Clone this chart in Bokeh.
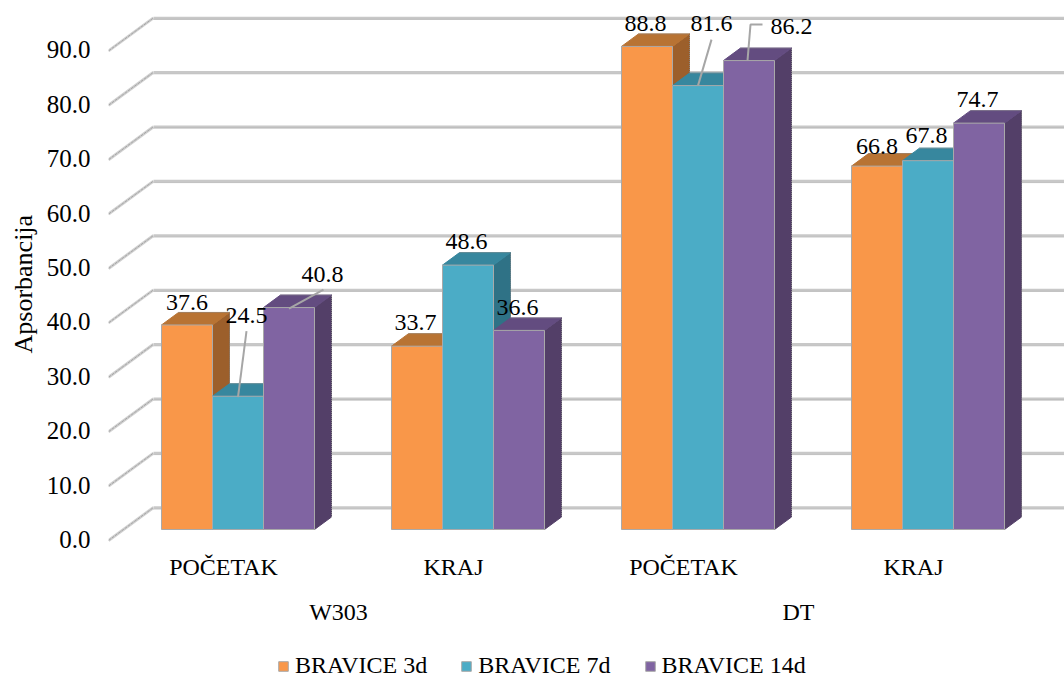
from bokeh.plotting import figure
from bokeh.models import (ColumnDataSource, FixedTicker, Legend, LegendItem, LinearAxis,
                          NumeralTickFormatter, Range1d, Title)
from bokeh.core.properties import value
from bokeh.embed import file_html
from bokeh.resources import INLINE

# ---- data ----
groups = ["W303", "DT"]
phases = ["POČETAK", "KRAJ", "POČETAK", "KRAJ"]
series_names = ["BRAVICE 3d", "BRAVICE 7d", "BRAVICE 14d"]
bravice_3d = [37.6, 33.7, 88.8, 66.8]
bravice_7d = [24.5, 48.6, 81.6, 67.8]
bravice_14d = [40.8, 36.6, 86.2, 74.7]
y_ticks = [0, 10, 20, 30, 40, 50, 60, 70, 80, 90]

# ---- styles ----
FONT = "Liberation Serif"
FRONT = ["#F99749", "#4BACC6", "#8064A2"]
TOP = ["#B87333", "#37879E", "#634C80"]
SIDE = ["#9C5F2B", "#2F7286", "#533F68"]

# ---- projection: one category = 230 px, ten units = 54.4 px ----
PX_X = 1 / 230
PX_Y = 1 / 5.44
BAR_W = 51 * PX_X
FLOOR_X, FLOOR_Y = 14.5 * PX_X, 10 * PX_Y     # bars stand a little into the floor
DEPTH_X, DEPTH_Y = 17 * PX_X, 12.5 * PX_Y     # bar depth
WALL_X, WALL_Y = 45 * PX_X, 32 * PX_Y         # wall depth

x_range = Range1d(-0.5, -0.5 + 956 * PX_X)
y_range = Range1d(-138 * PX_Y, 539 * PX_Y)

p = figure(width=1064, height=677, x_range=x_range, y_range=y_range, toolbar_location=None,
           output_backend="svg", min_border_left=108, min_border_right=0, min_border_top=0,
           min_border_bottom=0, outline_line_color=None, background_fill_color="white",
           x_axis_type=None, y_axis_type=None)
p.grid.visible = False

back_x = [[-0.5 + WALL_X, x_range.end] for _ in y_ticks]
back_y = [[v + WALL_Y, v + WALL_Y] for v in y_ticks]
p.multi_line(back_x, back_y, line_color="#c8c8c8", line_width=2.5)
p.multi_line(back_x, [[a - 1.5 * PX_Y, b - 1.5 * PX_Y] for a, b in back_y], line_color="#8c8c8c",
             line_width=1, line_dash="1 1")
diag_x = [[-0.5, -0.5 + WALL_X] for _ in y_ticks]
diag_y = [[v - PX_Y, v + WALL_Y] for v in y_ticks]
p.multi_line(diag_x, diag_y, line_color="#d0d0d0", line_width=3)
p.multi_line(diag_x, diag_y, line_color="#a4a4a4", line_width=1, line_dash="3 1")

all_series = [bravice_3d, bravice_7d, bravice_14d]
legend_items = []
for s, vals in enumerate(all_series):
    lefts = [i + FLOOR_X + (s - 1.5) * BAR_W for i in range(4)]
    rights = [l + BAR_W for l in lefts]
    tops = [v + FLOOR_Y for v in vals]
    base = FLOOR_Y
    side_x = [[r, r + DEPTH_X, r + DEPTH_X, r] for r in rights]
    side_y = [[base, base + DEPTH_Y, t + DEPTH_Y, t] for t in tops]
    top_x = [[l, l + DEPTH_X, r + DEPTH_X, r] for l, r in zip(lefts, rights)]
    top_y = [[t, t + DEPTH_Y, t + DEPTH_Y, t] for t in tops]
    p.patches(side_x, side_y, fill_color=SIDE[s], line_color=SIDE[s], line_width=1)
    p.patches(top_x, top_y, fill_color=TOP[s], line_color=TOP[s], line_width=1)
    front = p.quad(left=lefts, right=rights, top=tops, bottom=[base] * 4, fill_color=FRONT[s],
                   line_color="#a9a9a9", line_width=1)
    edge_x = [[l + DEPTH_X, r + DEPTH_X, r + DEPTH_X] for l, r in zip(lefts, rights)]
    edge_y = [[t + DEPTH_Y, t + DEPTH_Y, base + DEPTH_Y] for t in tops]
    p.multi_line(edge_x, edge_y, line_color="#8a8a8a", line_width=1, line_dash="1 1")
    legend_items.append(LegendItem(label=series_names[s], renderers=[front]))

label_shift = [
    [(0, -22), (-1.5, -24), (-1.5, -23), (0, -20)],
    [(8.5, -81), (-1.5, -24), (13.5, -62), (-1.5, -25)],
    [(33.5, -33), (-1.5, -23), (42.5, -34), (-1.5, -24)],
]
leaders = [
    (1, 0, [(0, 1), (8.5, -65)]),
    (2, 0, [(0, 1), (34.5, -18)]),
    (1, 2, [(0, 0), (13.5, -46)]),
    (2, 2, [(-1.5, 0), (1.5, -36), (13.5, -36)]),
]
lx, ly = [], []
for s, c, pts in leaders:
    cx = c + FLOOR_X + (s - 1) * BAR_W
    cy = all_series[s][c] + FLOOR_Y
    lx.append([cx + a * PX_X for a, b in pts])
    ly.append([cy - b * PX_Y for a, b in pts])
p.multi_line(lx, ly, line_color="#a6a6a6", line_width=2)

tx, ty, ts, xo, yo = [], [], [], [], []
for s, vals in enumerate(all_series):
    for c, v in enumerate(vals):
        tx.append(c + FLOOR_X + (s - 1) * BAR_W)
        ty.append(v + FLOOR_Y)
        ts.append(f"{v:.1f}")
        xo.append(label_shift[s][c][0])
        yo.append(label_shift[s][c][1])
src = ColumnDataSource(dict(x=tx, y=ty, t=ts, xo=xo, yo=yo))
p.text("x", "y", text="t", x_offset="xo", y_offset="yo", source=src, text_font=value(FONT),
       text_font_size="24px", text_color="black", text_align="center", text_baseline="middle")

yax = LinearAxis(ticker=FixedTicker(ticks=y_ticks), formatter=NumeralTickFormatter(format="0.0"),
                 axis_line_color=None, major_tick_line_color=None,
                 minor_tick_line_color=None, major_label_standoff=12,
                 major_label_text_font=FONT, major_label_text_font_size="25px",
                 major_label_text_color="black")
p.add_layout(yax, "left")
p.add_layout(Title(text="Apsorbancija", align="left", offset=324, standoff=12, text_font=FONT,
                   text_font_size="26px", text_font_style="normal", text_color="black"), "left")

xax = LinearAxis(ticker=FixedTicker(ticks=[0, 1, 2, 3]), fixed_location=0,
                 major_label_overrides={i: phases[i] for i in range(4)}, axis_line_color=None,
                 major_tick_line_color=None, minor_tick_line_color=None, major_label_standoff=8,
                 major_label_text_font=FONT, major_label_text_font_size="24px",
                 major_label_text_color="black")
p.add_layout(xax, "below")
gax = LinearAxis(ticker=FixedTicker(ticks=[0.5, 2.5]), fixed_location=-45 * PX_Y,
                 major_label_overrides={0.5: groups[0], 2.5: groups[1]}, axis_line_color=None,
                 major_tick_line_color=None, minor_tick_line_color=None, major_label_standoff=8,
                 major_label_text_font=FONT, major_label_text_font_size="24px",
                 major_label_text_color="black")
p.add_layout(gax, "below")

legend = Legend(items=legend_items, orientation="horizontal", location=(169, -2),
                border_line_color=None, background_fill_alpha=0, label_text_font=FONT,
                label_text_font_size="24px", label_text_color="black", glyph_width=12,
                glyph_height=12, label_standoff=6, spacing=33, padding=0, margin=0)
p.add_layout(legend)

open("out.html", "w").write(file_html(p, INLINE))
